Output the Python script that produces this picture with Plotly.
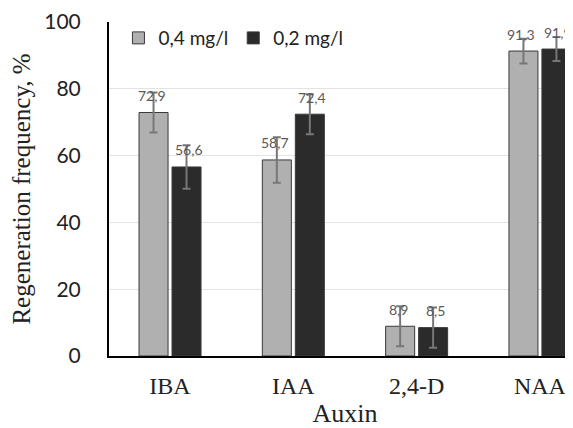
import plotly.graph_objects as go

categories = ["IBA", "IAA", "2,4-D", "NAA"]
series_names = ["0,4 mg/l", "0,2 mg/l"]
values_04 = [72.9, 58.7, 8.9, 91.3]
values_02 = [56.6, 72.4, 8.5, 91.9]
errors_04 = [6.0, 6.8, 6.0, 3.7]
errors_02 = [6.5, 6.0, 6.0, 3.6]
labels_04 = ["72,9", "58,7", "8,9", "91,3"]
labels_02 = ["56,6", "72,4", "8,5", "91,9"]
y_ticks = [0, 20, 40, 60, 80, 100]

colors = ["#b0b0b0", "#2b2b2b"]

fig = go.Figure()
for name, vals, errs, col in [(series_names[0], values_04, errors_04, colors[0]),
                              (series_names[1], values_02, errors_02, colors[1])]:
    fig.add_trace(go.Bar(
        x=categories, y=vals, name=name,
        marker=dict(color=col, line=dict(color="#3a3a3a", width=1)),
        error_y=dict(type="data", array=errs, visible=True, color="#777777",
                     thickness=2, width=4),
    ))

annotations = []
for i, cat in enumerate(categories):
    for vals, labs, shift in [(values_04, labels_04, -18.5), (values_02, labels_02, 18.5)]:
        annotations.append(dict(
            x=cat, y=vals[i], text=labs[i], showarrow=False,
            xshift=shift, yshift=17, yanchor="middle",
            font=dict(family="Lato, sans-serif", size=14, color="#5a5a5a"),
        ))

fig.update_layout(
    width=573, height=428,
    margin=dict(l=101, r=0, t=14, b=80),
    paper_bgcolor="white", plot_bgcolor="white",
    barmode="group", bargap=0.465, bargroupgap=0.12,
    showlegend=True,
    legend=dict(orientation="h", x=0.02, y=0.952, xanchor="left", yanchor="middle",
                font=dict(family="Lato, sans-serif", size=19, color="#222222"),
                bgcolor="rgba(0,0,0,0)", itemwidth=30, traceorder="normal"),
    annotations=annotations,
    xaxis=dict(range=[-0.495, 3.333], showgrid=False, showline=True,
               linecolor="black", linewidth=2, ticks="", ticklabelstandoff=7,
               tickfont=dict(family="Liberation Serif, serif", size=24, color="#222222"),
               title=dict(text="Auxin", standoff=5,
                          font=dict(family="Liberation Serif, serif", size=26, color="#222222"))),
    yaxis=dict(range=[0, 100], tickvals=y_ticks, showgrid=True, gridcolor="#e3e3e3",
               gridwidth=1, showline=True, linecolor="black", linewidth=2,
               ticks="", zeroline=False, ticklabelstandoff=22,
               tickfont=dict(family="Lato, sans-serif", size=21, color="#222222"),
               title=dict(text="Regeneration frequency, %", standoff=10,
                          font=dict(family="Liberation Serif, serif", size=25, color="#222222"))),
)

fig.write_html("out.html")
